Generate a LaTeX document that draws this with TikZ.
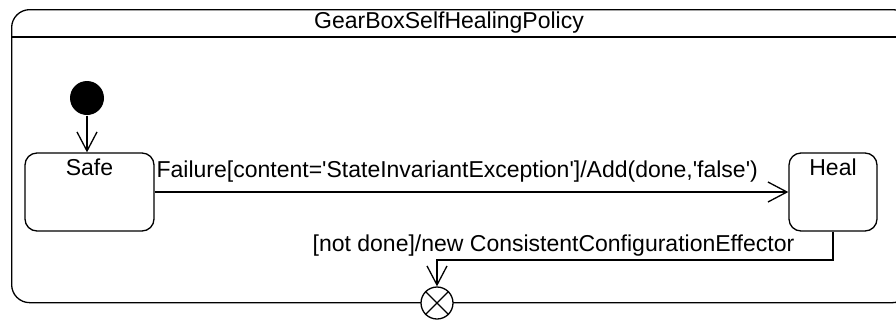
\documentclass[tikz,border=0pt]{standalone}
\usepackage{fontspec}
\setmainfont{Liberation Sans}
\usetikzlibrary{arrows.meta, positioning}

\begin{document}
\begin{tikzpicture}[
    x=1pt, y=-1pt,
    line width=1.3pt,
    every node/.style={font=\fontsize{23}{27}\selectfont},
    state/.style={
      draw,
      rounded corners=12pt,
      minimum width=129pt,
      minimum height=78pt,
      inner sep=0pt
    },
    trans/.style={-{Straight Barb[length=19pt, width=20pt]}},
    lbl/.style={inner sep=0pt, anchor=base west}
  ]
    \useasboundingbox (0,0) rectangle (896,325);
    \node[draw, rounded corners=18pt, minimum width=899pt, minimum height=293pt,
      inner sep=0pt, anchor=north west] (policy) at (11,9) {};
    \draw ([yshift=-28pt]policy.north west) -- ([yshift=-28pt]policy.north east);
    \node[inner sep=0pt] (title) at (449,23) {GearBoxSelfHealingPolicy};
    \node[circle, fill, minimum size=34pt, inner sep=0pt] (init) at (87,98) {};
    \node[state] (safe) at (89.5,192) {};
    \node[state, minimum width=88pt] (heal) at (833,192) {};
    \node[below=6pt of safe.north, inner sep=0pt] (safename) {Safe};
    \node[below=6pt of heal.north, inner sep=0pt] (healname) {Heal};
    \node[circle, draw, fill=white, minimum size=32pt, inner sep=0pt] (exit) at (437,303) {};
    \draw (exit.north west) -- (exit.south east) (exit.north east) -- (exit.south west);
    \coordinate (bend) at (437,260);
    \draw[trans] (init.south) -- (init.south |- safe.north);
    \draw[trans] (safe.east) -- (heal.west);
    \draw[trans] (heal.south) |- (bend) -- (exit.north);
    \node[lbl] (failure) at (156,177) {Failure[content=\textquotesingle StateInvariantException\textquotesingle]/Add(done,\textquotesingle false\textquotesingle)};
    \node[lbl] (notdone) at (312,251) {[not done]/new ConsistentConfigurationEffector};
  \end{tikzpicture}
\end{document}
